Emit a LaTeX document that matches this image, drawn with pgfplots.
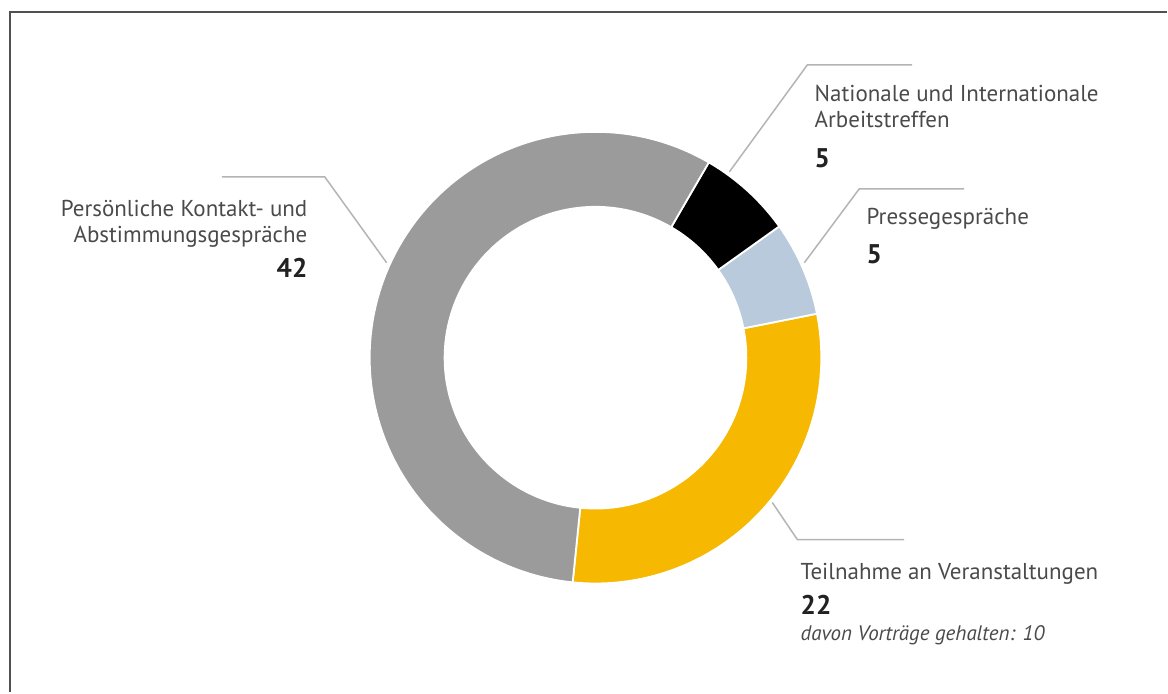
\documentclass[border=0pt]{standalone}
\usepackage{pgfplots}
\pgfplotsset{compat=1.18}
\usepackage{pgfplotstable}
\usepackage{fontspec}
\setmainfont{PT Sans}
\definecolor{cyellow}{HTML}{F6B800}
\definecolor{cblue}{HTML}{B8CADC}
\definecolor{cblack}{HTML}{000000}
\definecolor{cgray}{HTML}{9B9B9B}
\definecolor{ctext}{HTML}{4A4A4A}
\definecolor{cnum}{HTML}{222222}
\definecolor{cline}{HTML}{B4B4B4}
\definecolor{cframe}{HTML}{505050}

\pgfplotstableread[col sep=comma]{
value,color
22,cyellow
5,cblue
5,cblack
42,cgray
}\segdata

\begin{document}
\begin{tikzpicture}
\pgfplotstablegetrowsof{\segdata}
\pgfmathtruncatemacro\lastrow{\pgfplotsretval-1}
\gdef\total{0}
\foreach \i in {0,...,\lastrow}{%
  \pgfplotstablegetelem{\i}{value}\of\segdata
  \pgfmathsetmacro\tt{\total+\pgfplotsretval}%
  \global\let\total\tt
}
\begin{axis}[x=0.5pt, y=0.5pt, xmin=0, xmax=1168, ymin=0, ymax=693,
  y dir=reverse, hide axis, clip=false]
\path (axis cs:0,0) -- (axis cs:1168,693);
% donut segments
\def\cum{264.2}
\pgfplotsforeachungrouped \i in {0,...,\lastrow}{%
  \pgfplotstablegetelem{\i}{value}\of\segdata \let\v\pgfplotsretval
  \pgfplotstablegetelem{\i}{color}\of\segdata \let\c\pgfplotsretval
  \pgfmathsetmacro\a{\cum}%
  \pgfmathsetmacro\b{\cum+360*\v/\total}%
  \edef\tmp{\noexpand\fill[\c, draw=white, line width=0.9pt]
    (axis cs:596,358) ++(\a:113pt) arc[start angle=\a, end angle=\b, radius=113pt]
    -- ([shift={(\b:75.5pt)}]axis cs:596,358)
    arc[start angle=\b, end angle=\a, radius=75.5pt] -- cycle;}%
  \tmp
  \global\let\cum\b
}
% leader lines
\addplot[cline, line width=0.75pt, no marks] coordinates {(222,177) (325,177) (387,263)};
\addplot[cline, line width=0.75pt, no marks] coordinates {(913,65) (808,65) (730,172)};
\addplot[cline, line width=0.75pt, no marks] coordinates {(965,189) (860,189) (805,263)};
\addplot[cline, line width=0.75pt, no marks] coordinates {(773,503) (798,540) (905,540)};
% frame
\draw[cframe, line width=1pt] (axis cs:10,693) -- (axis cs:10,12) -- (axis cs:1168,12);
% labels
\begin{scope}[every node/.style={inner sep=0pt, text=ctext, font=\fontsize{11.5}{13}\selectfont}]
\node[anchor=base west] at (axis cs:815,102) {Nationale und Internationale};
\node[anchor=base west] at (axis cs:815,128) {Arbeitstreffen};
\node[anchor=base west, text=cnum, font=\fontsize{13.5}{15}\bfseries] at (axis cs:815,168) {5};
\node[anchor=base west] at (axis cs:867,225) {Pressegespräche};
\node[anchor=base west, text=cnum, font=\fontsize{13.5}{15}\bfseries] at (axis cs:867,264) {5};
\node[anchor=base east] at (axis cs:308,217) {Persönliche Kontakt- und};
\node[anchor=base east] at (axis cs:308,243) {Abstimmungsgespräche};
\node[anchor=base east, text=cnum, font=\fontsize{13.5}{15}\bfseries] at (axis cs:308,278) {42};
\node[anchor=base west] at (axis cs:801,580) {Teilnahme an Veranstaltungen};
\node[anchor=base west, text=cnum, font=\fontsize{13.5}{15}\bfseries] at (axis cs:801,615) {22};
\node[anchor=base west, font=\fontsize{10.5}{12}\itshape] at (axis cs:801,641) {davon Vorträge gehalten: 10};
\end{scope}
\end{axis}
\end{tikzpicture}
\end{document}
